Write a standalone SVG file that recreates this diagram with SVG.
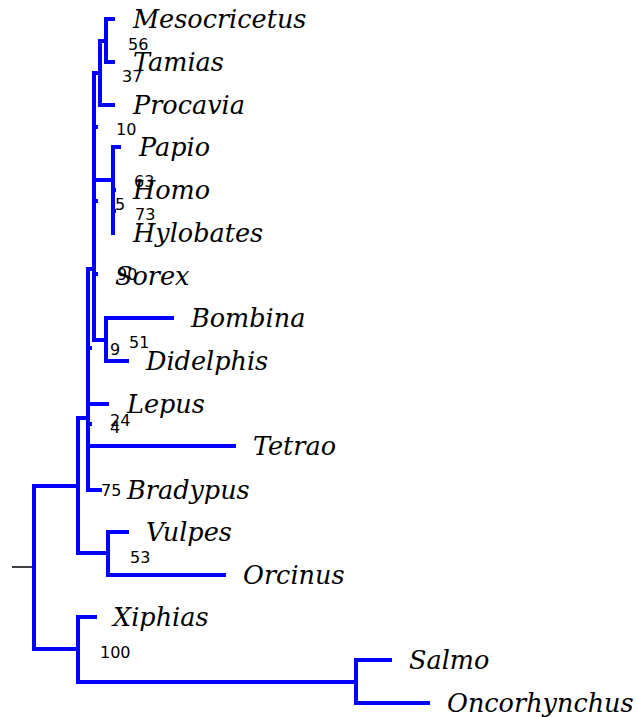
<svg xmlns="http://www.w3.org/2000/svg" width="636" height="717" viewBox="0 0 636 717">
<style>
.br{stroke:#0000ff;stroke-width:4;fill:none;stroke-linecap:square}
.lf{font-family:"DejaVu Serif",serif;font-style:italic;font-size:25.5px;fill:#000}
.sp{font-family:"DejaVu Sans",sans-serif;font-size:16px;fill:#000}
</style>
<rect width="636" height="717" fill="#fff"/>
<g id="connectors">
<line x1="12" y1="567" x2="34" y2="567" stroke="#000" stroke-width="1.5"/>
<path class="br" d="M34 486V649M34 486H78M34 649H78"/>
<path class="br" d="M78 617V682M78 617H95M78 682H356M356 660V703M356 660H390M356 703H428"/>
<path class="br" d="M78 418V553M78 418H88M78 553H108M108 532V575M108 532H127M108 575H224"/>
<path class="br" d="M88 269V490M88 490H100M88 446H234M88 404H107M88 424H90M88 348H90M88 269H94"/>
<path class="br" d="M94 73V340M94 340H106M106 318V361M106 318H172M106 361H127M94 274H96M94 127H96M94 201H96"/>
<path class="br" d="M94 180H113M113 147V233M113 147H119M113 190H114M113 211H114"/>
<path class="br" d="M94 73H100M100 41V105M100 105H113M100 41H106M106 19V62M106 19H113M106 62H113"/>
</g>
<g id="leaves">
<text class="lf" x="133" y="28">Mesocricetus</text>
<text class="lf" x="133" y="71">Tamias</text>
<text class="lf" x="133" y="114">Procavia</text>
<text class="lf" x="139" y="156">Papio</text>
<text class="lf" x="133" y="199">Homo</text>
<text class="lf" x="133" y="242">Hylobates</text>
<text class="lf" x="115" y="285">Sorex</text>
<text class="lf" x="191" y="327">Bombina</text>
<text class="lf" x="146" y="370">Didelphis</text>
<text class="lf" x="127" y="413">Lepus</text>
<text class="lf" x="253" y="455">Tetrao</text>
<text class="lf" x="127" y="499">Bradypus</text>
<text class="lf" x="146" y="541">Vulpes</text>
<text class="lf" x="243" y="584">Orcinus</text>
<text class="lf" x="113" y="626">Xiphias</text>
<text class="lf" x="409" y="669">Salmo</text>
<text class="lf" x="447" y="712">Oncorhynchus</text>
</g>
<g id="support">
<text class="sp" x="128" y="50">56</text>
<text class="sp" x="122" y="82">37</text>
<text class="sp" x="116" y="135">10</text>
<text class="sp" x="134" y="187">63</text>
<text class="sp" x="115" y="210">5</text>
<text class="sp" x="135" y="220">73</text>
<text class="sp" x="117" y="280">90</text>
<text class="sp" x="110" y="355">9</text>
<text class="sp" x="129" y="348">51</text>
<text class="sp" x="110" y="426">24</text>
<text class="sp" x="110" y="433">4</text>
<text class="sp" x="101" y="496">75</text>
<text class="sp" x="130" y="563">53</text>
<text class="sp" x="100" y="658">100</text>
</g>
</svg>
